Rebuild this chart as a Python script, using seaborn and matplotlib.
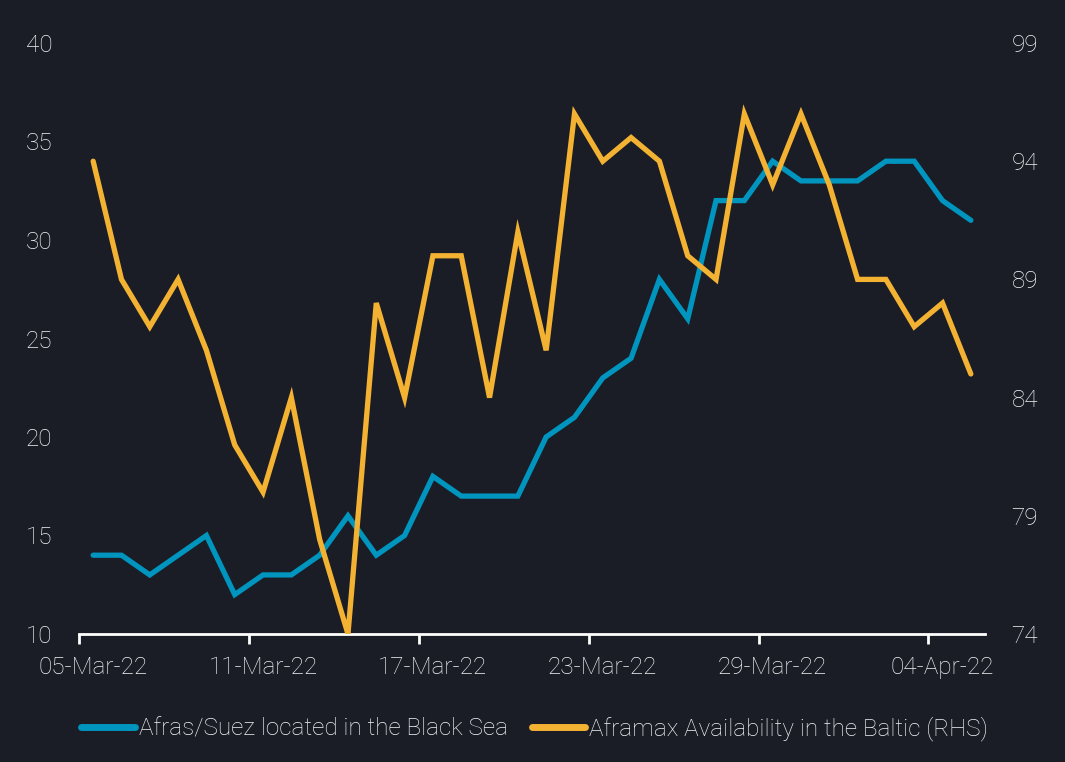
import numpy as np
import pandas as pd
import matplotlib
matplotlib.use("Agg")
import matplotlib.pyplot as plt
import seaborn as sns
from matplotlib.ticker import FixedLocator, FixedFormatter

# données (05-Mar-22 -> 05-Apr-22, quotidien)
dates = pd.date_range("2022-03-05", "2022-04-05", freq="D")
black_sea = [14, 14, 13, 14, 15, 12, 13, 13, 14, 16, 14, 15, 18, 17, 17, 17,
             20, 21, 23, 24, 28, 26, 32, 32, 34, 33, 33, 33, 34, 34, 32, 31]
baltic = [94, 89, 87, 89, 86, 82, 80, 84, 78, 74, 88, 84, 90, 90, 84, 91,
          86, 96, 94, 95, 94, 90, 89, 96, 93, 96, 93, 89, 89, 87, 88, 85]
left_ticks = [10, 15, 20, 25, 30, 35, 40]
right_ticks = [74, 79, 84, 89, 94, 99]

bg = "#1b1d26"
txt = "#f4f4f6"
blue = "#0095bf"
yellow = "#f4b233"
fs = 17.5

df = pd.DataFrame({"date": dates, "black_sea": black_sea, "baltic": baltic})
df["pos"] = np.arange(len(df))

sns.set_theme(style="dark")
plt.rcParams["font.family"] = ["Roboto", "DejaVu Sans"]
plt.rcParams["font.weight"] = "light"

fig = plt.figure(figsize=(10.65, 7.62), dpi=100, facecolor=bg)
ax = fig.add_axes([79 / 1065, 1 - 634 / 762, (985 - 79) / 1065, (634 - 43) / 762])
ax.set_facecolor(bg)
ax2 = ax.twinx()

sns.lineplot(data=df, x="pos", y="black_sea", ax=ax, color=blue, lw=3.8,
             label="Afras/Suez located in the Black Sea", legend=False)
sns.lineplot(data=df, x="pos", y="baltic", ax=ax2, color=yellow, lw=3.8,
             label="Aframax Availability in the Baltic (RHS)", legend=False)

for a in (ax, ax2):
    for ln in a.get_lines():
        ln.set_solid_capstyle("round")
        ln.set_solid_joinstyle("miter")
    a.grid(False)
    for s in a.spines.values():
        s.set_visible(False)

ax.set_xlim(-0.5, len(df) - 0.5)
ax.set_ylim(10, 40)
ax2.set_ylim(74, 99)
ax.set_yticks(left_ticks)
ax2.set_yticks(right_ticks)
ax.tick_params(axis="y", length=0, pad=19, labelsize=fs, labelcolor=txt)
ax2.tick_params(axis="y", length=0, pad=19, labelsize=fs, labelcolor=txt)

# graduations entre les catégories, libellés au centre
label_pos = list(range(0, len(df), 6))
ax.xaxis.set_major_locator(FixedLocator([p - 0.5 for p in label_pos]))
ax.xaxis.set_major_formatter(FixedFormatter([""] * len(label_pos)))
ax.xaxis.set_minor_locator(FixedLocator(label_pos))
ax.xaxis.set_minor_formatter(FixedFormatter([df["date"][p].strftime("%d-%b-%y") for p in label_pos]))
ax.tick_params(axis="x", which="major", bottom=True, length=7, width=2, color="white", direction="out")
ax.tick_params(axis="x", which="minor", bottom=True, length=0, pad=16, labelsize=fs, labelcolor=txt)
ax.spines["bottom"].set_visible(True)
ax.spines["bottom"].set_color("white")
ax.spines["bottom"].set_linewidth(2)
ax.set_xlabel("")
ax.set_ylabel("")
ax2.set_ylabel("")

h1, l1 = ax.get_legend_handles_labels()
h2, l2 = ax2.get_legend_handles_labels()
leg = fig.legend(h1 + h2, l1 + l2, loc="center", bbox_to_anchor=(0.502, 1 - 729 / 762),
                 ncol=2, frameon=False, fontsize=fs, handlelength=2.2,
                 handletextpad=0.15, columnspacing=1.0, labelcolor=txt)
for lh in leg.get_lines():
    lh.set_linewidth(5)
    lh.set_solid_capstyle("round")

fig.savefig("out.png", dpi=100, facecolor=bg)
